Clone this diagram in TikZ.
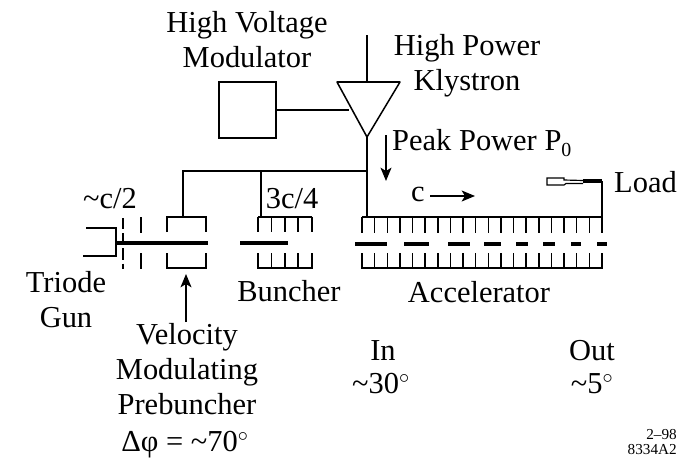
\documentclass[tikz,border=0pt]{standalone}
\usepackage{fontspec}
\setmainfont{Liberation Serif}
\usetikzlibrary{arrows.meta}

\tikzstyle{label} = [inner sep=0pt, align=center, font=\fontsize{26}{30}\selectfont]
\tikzstyle{tiny} = [inner sep=0pt, align=right, anchor=east, font=\fontsize{13}{13}\selectfont]
\tikzstyle{line} = [draw, line width=1.3pt]
\tikzstyle{beam} = [draw, line width=2.8pt]
\tikzstyle{arrow} = [line width=1.2pt,-{Stealth[length=4mm,width=3.3mm,inset=1mm]},draw]

\begin{document}
\begin{tikzpicture}[x=0.3mm,y=-0.3mm]
\useasboundingbox (0,0) rectangle (688,464);

% Klystron and modulator
\node[line,minimum width=57*0.3mm,minimum height=56*0.3mm,inner sep=0pt](modulator) at (247.5,110) {};
\coordinate (klyL) at (337,82);
\coordinate (klyR) at (400,82);
\coordinate (klyB) at (367,137);
\coordinate (rfin) at (367,35);
\coordinate (klyT) at (367,82);
\coordinate (klyS) at (349,110);
\path[line,line join=round] (klyL) -- (klyR) -- (klyB) -- cycle;
\path[line] (rfin) -- (klyT);
\path[line] (modulator.east) -- (klyS);

% Feed lines
\coordinate (feedA) at (367,171);
\coordinate (feedP) at (183,171);
\coordinate (feedB) at (261,171);
\coordinate (feedC) at (367,217);
\path[line] (klyB) -- (feedC);
\path[line] (feedA) -- (feedP) -- (183,217);
\path[line] (feedB) -- (261,217);

% Gun
\path[line] (86,228) -- (116,228) -- (116,256) -- (83,256);
\path[line,dash pattern=on 9.5pt off 3.5pt] (123,218) -- (123,269);
\path[line] (141,217) -- (141,233);
\path[line] (141,253) -- (141,269);
\path[beam] (116,243) -- (208,243);

% Prebuncher
\path[line] (167,232) -- (167,217) -- (206,217) -- (206,232);
\path[line] (167,253) -- (167,268) -- (206,268) -- (206,253);

% Buncher
\path[line] (258,217) -- (312,217);
\path[line] (258,268) -- (312,268);
\foreach \x in {258,271.5,285,298,312}{
	\path[line] (\x,216.5) -- (\x,232);
	\path[line] (\x,253) -- (\x,268.5);
}
\path[beam] (240,243) -- (288,243);

% Accelerator
\path[line] (362,217) -- (602,217);
\path[line] (362,268) -- (602,268);
\foreach \i in {0,...,19}{
	\path[line] (362+\i*12.63,216.5) -- (362+\i*12.63,233);
	\path[line] (362+\i*12.63,253) -- (362+\i*12.63,268.5);
}
\foreach \a/\b in {355/387,404/429,448/470,484/501,516/528,543/555,571/581,597/607}{
	\path[beam] (\a,244) -- (\b,244);
}

% Load
\path[line] (602,217) -- (602,181);
\path[beam] (602,181) -- (583,181);
\path[line,line width=1pt] (583,180.5) -- (564,180) -- (564,178) -- (547,178) -- (547,185) -- (564,185) -- (566,183.5) -- (583,183.5);

% Arrows
\path[arrow] (386,135) -- (386,181);
\path[arrow] (430,196) -- (475,196);
\path[arrow] (186,322) -- (186,274);

% Labels
\node[label](hv) at (247,40) {High Voltage\\Modulator};
\node[label](hp) at (467,66) {High Power\\Klystron};
\node[label,anchor=west](peak) at (392,143) {Peak Power P\raisebox{-5pt}{\fontsize{17}{17}\selectfont 0}};
\node[label,anchor=west](loadtxt) at (614,182) {Load};
\node[label](ctxt) at (418,194) {c};
\node[label](halfc) at (110,199) {\textasciitilde c/2};
\node[label](tqc) at (292,199) {3c/4};
\node[label](gun) at (66,300) {Triode\\Gun};
\node[label](bun) at (289,291) {Buncher};
\node[label](acc) at (479,292) {Accelerator};
\node[label](vmp) at (187,369) {Velocity\\Modulating\\Prebuncher};
\node[label](dphi) at (185,445) {Δφ = \textasciitilde 70$^\circ$};
\node[label](in) at (383,351) {In};
\node[label](inph) at (381,384) {\textasciitilde 30$^\circ$};
\node[label](out) at (592,351) {Out};
\node[label](outph) at (592,384) {\textasciitilde 5$^\circ$};
\node[tiny](date) at (677,435) {2--98};
\node[tiny](fig) at (677,450) {8334A2};
\end{tikzpicture}
\end{document}
